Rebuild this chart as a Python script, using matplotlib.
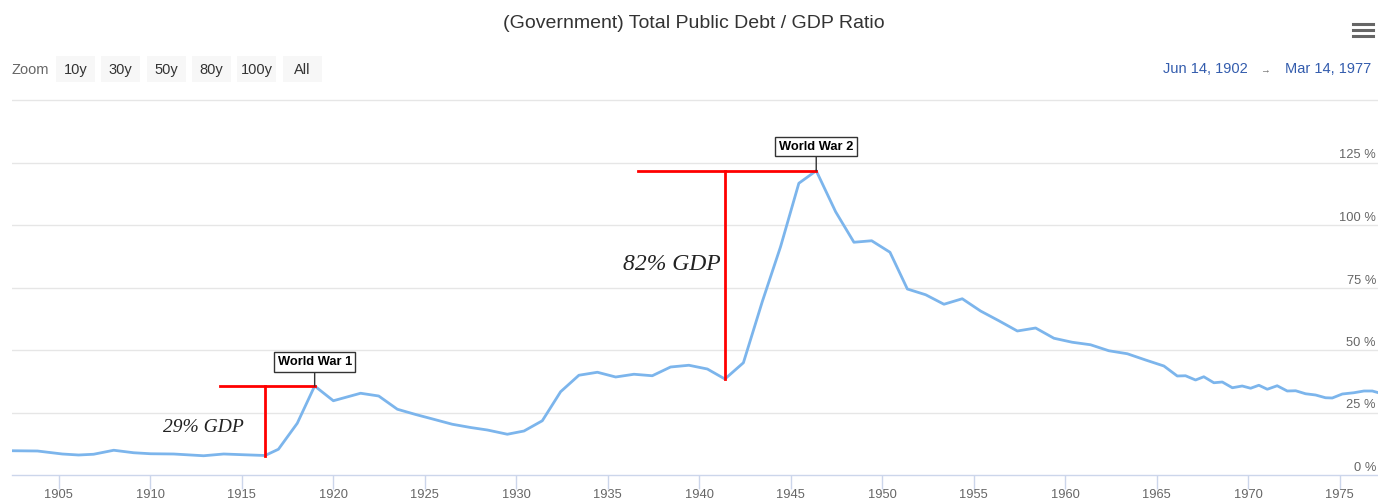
import numpy as np
import matplotlib.pyplot as plt
from matplotlib.patches import Rectangle
from matplotlib.lines import Line2D
from matplotlib.transforms import offset_copy

plt.rcParams['font.family'] = ['Liberation Sans', 'DejaVu Sans']

# debt / GDP (decimal year, percent)
years = [1902.50, 1903.84, 1905.20, 1906.09, 1906.91, 1908.01, 1909.10, 1910.03,
         1911.28, 1912.92, 1914.02, 1915.11, 1916.28, 1917.01, 1918.04, 1918.99,
         1920.01, 1921.50, 1922.49, 1923.51, 1924.51, 1925.49, 1926.51, 1927.51,
         1928.43, 1929.52, 1930.43, 1931.43, 1932.43, 1933.43, 1934.44, 1935.44,
         1936.44, 1937.44, 1938.44, 1939.44, 1940.45, 1941.41, 1942.42, 1943.45,
         1944.45, 1945.45, 1946.40, 1947.46, 1948.46, 1949.43, 1950.43, 1951.38,
         1952.38, 1953.38, 1954.38, 1955.38, 1956.38, 1957.39, 1958.39, 1959.39,
         1960.39, 1961.39, 1962.39, 1963.40, 1964.40, 1965.40, 1966.13, 1966.58,
         1967.13, 1967.58, 1968.13, 1968.59, 1969.14, 1969.68, 1970.14, 1970.59,
         1971.05, 1971.59, 1972.14, 1972.60, 1973.14, 1973.69, 1974.23, 1974.60,
         1975.15, 1975.78, 1976.33, 1976.79, 1977.13]
debt_pct = [9.7, 9.6, 8.4, 8.0, 8.3, 9.9, 8.9, 8.5,
            8.4, 7.7, 8.4, 8.1, 7.8, 10.3, 20.7, 35.6,
            29.7, 32.7, 31.6, 26.3, 24.2, 22.3, 20.3, 19.0,
            18.0, 16.3, 17.6, 21.7, 33.3, 39.9, 41.1, 39.2,
            40.3, 39.7, 43.2, 43.9, 42.4, 38.4, 44.9, 69.3,
            91.3, 116.7, 121.7, 105.3, 93.1, 93.7, 89.1, 74.4,
            72.1, 68.3, 70.5, 65.6, 61.7, 57.6, 58.8, 54.7,
            53.1, 52.1, 49.7, 48.5, 46.0, 43.6, 39.6, 39.7,
            38.0, 39.3, 36.9, 37.2, 34.9, 35.6, 34.7, 35.9,
            34.3, 35.7, 33.6, 33.7, 32.5, 32.0, 30.9, 30.8,
            32.4, 32.9, 33.6, 33.6, 32.9]

# war annotations: (flag text, peak year, peak %, low year, low %, bar start year, label, label x, label y)
ww1 = ("World War 1", 1918.99, 35.6, 1916.28, 7.8, 1913.80, "29% GDP", 1912.9, 19.2)
ww2 = ("World War 2", 1946.40, 121.7, 1941.41, 38.4, 1936.68, "82% GDP", 1938.5, 84.4)
label_size = {"29% GDP": 14, "82% GDP": 17}

x_ticks = list(range(1905, 1980, 5))
y_ticks = [0, 25, 50, 75, 100, 125]
grid_vals = [25, 50, 75, 100, 125, 150]
zoom_buttons = ["10y", "30y", "50y", "80y", "100y", "All"]
range_from, range_to = "Jun 14, 1902", "Mar 14, 1977"

W, H = 1378, 500
fig = plt.figure(figsize=(W / 100, H / 100), dpi=100)
fx = lambda px: px / W
fy = lambda py: 1 - py / H

ax = fig.add_axes([fx(12), fy(475), fx(1366), (475 - 94) / H])
ax.set_xlim(1902.45, 1977.1)
ax.set_ylim(0, 152.4)

for v in grid_vals:
    ax.axhline(v, color="#e6e6e6", lw=1, zorder=0)

ax.plot(years, debt_pct, color="#7cb5ec", lw=2, zorder=3, solid_joinstyle="round")

for name, py, pv, ly, lv, sy, lab, lx, lyv in (ww1, ww2):
    ax.plot([sy, py], [pv, pv], color="#ff0000", lw=2, zorder=4)
    ax.plot([ly, ly], [lv, pv], color="#ff0000", lw=2, zorder=4)
    ax.text(lx, lyv, lab, family="Liberation Serif", style="italic", fontsize=label_size[lab],
            color="#222222", ha="center", va="center")
    ax.annotate(name, xy=(py, pv), xytext=(0, 18), textcoords="offset pixels",
                ha="center", va="bottom", fontsize=9.3, fontweight="bold", color="#000000",
                bbox=dict(boxstyle="square,pad=0.28", fc="white", ec="#333333", lw=1),
                arrowprops=dict(arrowstyle="-", color="#333333", lw=1, shrinkA=0, shrinkB=0),
                zorder=6)

for s in ["top", "left", "right"]:
    ax.spines[s].set_visible(False)
ax.spines["bottom"].set_color("#ccd6eb")
ax.spines["bottom"].set_linewidth(1)

ax.set_xticks(x_ticks)
ax.set_xticklabels([str(t) for t in x_ticks])
ax.tick_params(axis="x", length=10, width=1, color="#ccd6eb", labelcolor="#666666",
               labelsize=9.3, pad=0)
ax.set_yticks([])

ylab_tr = offset_copy(ax.get_yaxis_transform(), fig=fig, x=-2, y=1, units="dots")
for v in y_ticks:
    ax.text(1.0, v, f"{v} %", transform=ylab_tr, ha="right", va="bottom",
            fontsize=9.3, color="#666666")

# header: title, zoom buttons, range, menu
fig.text(fx(694), fy(24), "(Government) Total Public Debt / GDP Ratio", ha="center",
         va="center", fontsize=14, color="#333333")
fig.text(fx(12), fy(70), "Zoom", ha="left", va="center", fontsize=10.5, color="#666666")
for i, lab in enumerate(zoom_buttons):
    x0 = 56 + i * 45.3
    fig.patches.append(Rectangle((fx(x0), fy(82)), fx(39), 26 / H, transform=fig.transFigure,
                                 fc="#f7f7f7", ec="none"))
    fig.text(fx(x0 + 19.5), fy(70), lab, ha="center", va="center", fontsize=10.5,
             color="#333333")
fig.text(fx(1163), fy(69), range_from, ha="left", va="center", fontsize=10.5, color="#335cad")
fig.text(fx(1265), fy(70), "\u2192", ha="center", va="center", fontsize=7, color="#666666")
fig.text(fx(1371), fy(69), range_to, ha="right", va="center", fontsize=10.5, color="#335cad")
for py in (24, 30, 36):
    fig.add_artist(Line2D([fx(1353), fx(1373)], [fy(py), fy(py)], color="#666666", lw=2.2,
                          transform=fig.transFigure))

fig.savefig("out.png", dpi=100)
